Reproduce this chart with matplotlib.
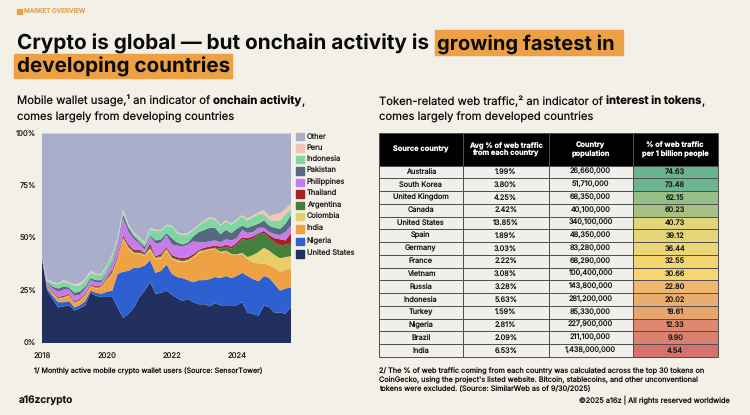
import matplotlib

matplotlib.use("Agg")
import matplotlib.pyplot as plt
import numpy as np
import pandas as pd
from matplotlib.colors import LinearSegmentedColormap, Normalize
from matplotlib.patches import Rectangle

plt.rcParams["font.family"] = ["Inter", "DejaVu Sans"]
plt.rcParams["text.hinting"] = "no_hinting"
plt.rcParams["text.hinting_factor"] = 1

BG = "#F3F0E8"
ORANGE = "#EDA144"
W, H = 750, 415

# wallet share, read as the top edge of each band (percent), every two months
dates = pd.date_range("2018-01-01", periods=47, freq="2MS")
us_top = [40, 25, 21, 17, 17.5, 18,
          15.5, 16.5, 18, 24, 22.5, 22,
          22, 22, 17, 12, 14, 17,
          22, 25, 29, 23.5, 24, 25,
          23, 21.5, 20, 21, 19.5, 18.5,
          18.5, 17.5, 19, 18, 18, 18,
          18, 19.5, 14.5, 14, 13, 18,
          17, 14.5, 14.5, 14, 17]
nigeria_top = [40.5, 26, 22.5, 19.5, 19.5, 20,
               17, 18, 20, 25, 24, 23.5,
               24.5, 25, 33, 34, 34.5, 36,
               36, 37, 39.5, 33.5, 34.5, 37.5,
               33, 31.5, 31, 30, 29, 30,
               30, 30.5, 31.5, 31, 32, 31,
               32, 33.5, 32, 30.5, 29.5, 32,
               31, 28, 25, 26, 26.5]
india_top = [40.7, 26.7, 23.5, 21, 21.5, 22.5,
             19, 20, 22.5, 27, 26, 26.5,
             30, 33, 40, 49.5, 45, 42.5,
             42.5, 41.5, 44, 40, 40.5, 44,
             40, 39, 38.5, 39, 41, 43,
             44, 44.5, 45, 43, 43.5, 42,
             42, 42.5, 40, 38.5, 38, 38,
             37, 36, 34, 35, 35.5]
colombia_top = [40.8, 26.9, 23.7, 21.2, 21.7, 22.7,
                19.2, 20.2, 22.7, 27.2, 26.2, 26.7,
                30.3, 33.4, 40.4, 50, 45.4, 43,
                43, 42, 45, 40.5, 41, 44.7,
                40.5, 39.5, 39, 39.5, 41.3, 43.5,
                44.3, 44.8, 45.2, 43.5, 44, 42.5,
                42.3, 43, 41, 42, 43.5, 45.5,
                44, 42, 40.5, 41, 41.5]
argentina_top = [40.9, 27, 24, 21.5, 22, 23,
                 19.5, 20.5, 23, 27.5, 26.5, 27,
                 31, 34, 41, 50.5, 46, 43.5,
                 43.5, 42.5, 46, 41, 41.5, 45.5,
                 41, 40, 39.5, 40, 41.5, 44,
                 44.5, 45, 45.5, 45, 46, 45,
                 47, 49.5, 49, 50, 52, 52.5,
                 50, 48, 46.5, 47, 47.5]
thailand_top = [41, 27.5, 24.5, 22, 22.5, 23.5,
                20, 21, 23.5, 28, 27, 27.5,
                31.5, 35, 42, 51.5, 47, 44.5,
                44.5, 43, 47.5, 41.5, 42.5, 46,
                42, 41, 40.5, 41, 42.5, 44.5,
                45.5, 46, 46.5, 46, 47, 46,
                48, 50.5, 50, 51, 52.5, 53.5,
                51.5, 50, 49.5, 49, 52.5]
philippines_top = [41.2, 28.5, 26, 24.5, 25.5, 25.5,
                   22.5, 23, 26, 30, 29, 29,
                   33.5, 38, 47, 59.5, 53, 49.5,
                   47.5, 44.5, 51, 47.5, 48, 51.5,
                   47, 46.5, 46, 47, 48.5, 48,
                   48, 48.5, 49, 48, 49.5, 49,
                   50, 54, 52.5, 53, 55, 55,
                   53, 52, 51.5, 53, 56]
pakistan_top = [41.4, 29, 27, 26, 27, 26.5,
                24, 24.5, 27, 31, 30, 30,
                34, 39, 48, 61.5, 55, 51,
                48.5, 46, 51.5, 49, 49.5, 52.5,
                50, 48, 47, 48, 51, 53,
                54, 55, 55, 52, 54, 52.5,
                54.5, 56, 55, 56, 57, 58.5,
                56, 55, 54.5, 57, 61]
indonesia_top = [41.6, 30, 28.5, 28, 29.5, 28.5,
                 27.5, 27.5, 30, 33.5, 32.5, 32.5,
                 37, 42, 50, 62.5, 56, 52,
                 50, 47.5, 54.5, 53.5, 53.5, 56,
                 55.5, 52.5, 51.5, 52, 54, 56,
                 58, 59.5, 59, 56, 58, 56.5,
                 58.5, 60.5, 58.5, 60, 61.5, 61.5,
                 58.5, 58.5, 58.5, 61.5, 64]
peru_top = [41.8, 30.5, 29, 28.5, 30, 29,
            28, 28.5, 30.5, 34.5, 33, 33,
            37.5, 42.5, 50.5, 63.5, 56.5, 52.5,
            50.5, 48, 55, 54, 54, 56.5,
            56, 53, 52, 52.5, 54.5, 56.5,
            58.5, 60, 59.5, 56.5, 58.5, 57,
            59, 61, 59.5, 61, 62.5, 63.5,
            60.5, 61.5, 62, 64, 66.5]

series_names = ["United States", "Nigeria", "India", "Colombia", "Argentina", "Thailand",
                "Philippines", "Pakistan", "Indonesia", "Peru", "Other"]
series_colors = ["#22305F", "#2F60D2", "#EEA243", "#E8CE68", "#447F3E", "#A32222",
                 "#C97BEE", "#56697F", "#7FD7A2", "#F2C5B7", "#A9AFCB"]

# table
countries = ["Australia", "South Korea", "United Kingdom", "Canada", "United States", "Spain",
             "Germany", "France", "Vietnam", "Russia", "Indonesia", "Turkey", "Nigeria",
             "Brazil", "India"]
traffic = ["1.99%", "3.80%", "4.25%", "2.42%", "13.85%", "1.89%", "3.03%", "2.22%", "3.08%",
           "3.28%", "5.63%", "1.59%", "2.81%", "2.09%", "6.53%"]
population = ["26,660,000", "51,710,000", "68,350,000", "40,100,000", "340,100,000", "48,350,000",
              "83,280,000", "68,290,000", "100,400,000", "143,800,000", "281,200,000", "85,330,000",
              "227,900,000", "211,100,000", "1,438,000,000"]
per_billion = [74.63, 73.48, 62.15, 60.23, 40.73, 39.12, 36.44, 32.55, 30.66, 22.80, 20.02,
               18.61, 12.33, 9.90, 4.54]
table_headers = ["Source country", "Avg % of web traffic\nfrom each country", "Country\npopulation",
                 "% of web traffic\nper 1 billion people"]


def px_axes(fig, x0, y0, x1, y1):
    # axes given in reference pixels, y measured from the top
    return fig.add_axes([x0 / W, 1 - y1 / H, (x1 - x0) / W, (y1 - y0) / H])


def draw_runs(ax, x, y, runs, size):
    # text pieces of different weight on one baseline, returns the x where they end
    renderer = ax.figure.canvas.get_renderer()
    for txt, weight in runs:
        ax.text(x, y, txt, fontsize=size, fontweight=weight, color="#0B0B0B", va="baseline",
                ha="left", zorder=3)
        # a bar at both ends keeps the trailing space in the measured width
        with_bars = ax.text(x, y, "|" + txt + "|", fontsize=size, fontweight=weight, alpha=0)
        bars = ax.text(x, y, "||", fontsize=size, fontweight=weight, alpha=0)
        x += with_bars.get_window_extent(renderer).width - bars.get_window_extent(renderer).width
        with_bars.remove()
        bars.remove()
    return x


fig = plt.figure(figsize=(W / 100, H / 100), dpi=100, facecolor=BG)

page = px_axes(fig, 0, 0, W, H)
page.set_xlim(0, W)
page.set_ylim(H, 0)
page.axis("off")

# header
page.add_patch(Rectangle((17, 9.5), 4.5, 5, color="#E5A24E", zorder=2))
page.text(24, 12, "MARKET OVERVIEW", fontsize=4.5, color="#DDA558", va="center", fontweight="medium")
page.add_patch(Rectangle((435, 30), 188, 25, color=ORANGE, zorder=1))
page.add_patch(Rectangle((14, 54), 218, 24, color=ORANGE, zorder=1))
draw_runs(page, 17, 50, [("Crypto is global — but onchain activity is", "bold")], 14.95)
draw_runs(page, 437, 50, [("growing fastest in", "bold")], 14.5)
draw_runs(page, 17, 73, [("developing countries", "bold")], 14.85)

# column headings
draw_runs(page, 17, 105, [("Mobile wallet usage,¹ an indicator of ", "normal"), ("onchain activity", "bold"),
                          (",", "normal")], 8.15)
draw_runs(page, 17, 121, [("comes largely from developing countries", "normal")], 8.1)
draw_runs(page, 379, 105, [("Token-related web traffic,² an indicator of ", "normal"),
                           ("interest in tokens", "bold"), (",", "normal")], 8.1)
draw_runs(page, 379, 121, [("comes largely from developed countries", "normal")], 8.1)

# stacked area
ax = px_axes(fig, 42, 133.5, 291, 343)
tops = np.array([us_top, nigeria_top, india_top, colombia_top, argentina_top, thailand_top,
                 philippines_top, pakistan_top, indonesia_top, peru_top, [100] * 47], dtype=float)
shares = np.diff(tops, axis=0, prepend=0)
ax.stackplot(dates, shares, colors=series_colors, labels=series_names, linewidth=0)
ax.set_xlim(dates[0], dates[-1])
ax.set_ylim(0, 100)
ax.set_yticks([0, 25, 50, 75, 100], ["0%", "25%", "50%", "75%", "100%"])
ax.set_xticks(pd.to_datetime(["2018-01-01", "2020-01-01", "2022-01-01", "2024-01-01"]),
              ["2018", "2020", "2022", "2024"])
ax.tick_params(length=0, labelsize=5.5, pad=4, labelcolor="#222222")
ax.tick_params(axis="x", pad=7)
ax.grid(True, color="#000000", alpha=0.02, lw=0.8)
ax.set_axisbelow(False)
for s in ax.spines.values():
    s.set_visible(False)

# legend, top entry first
legend_y = [136.7, 148, 159.7, 171, 182.5, 194, 205.3, 216.7, 229, 241.5, 254]
for name, color, y in zip(series_names[::-1], series_colors[::-1], legend_y):
    page.add_patch(Rectangle((296, y - 3.8), 7.6, 7.6, color=color, zorder=2))
    page.text(306.7, y, name, fontsize=5.4, color="#222222", va="center")

page.text(34.5, 371, "1/ Monthly active mobile crypto wallet users (Source: SensorTower)",
          fontsize=5.15, color="#111111", va="center")

# table
tab_ax = px_axes(fig, 378.7, 133, 717.7, 356.7)
tab_ax.axis("off")
cmap = LinearSegmentedColormap.from_list(
    "traffic",
    [(0.0, "#D6726D"), (0.11, "#DE8870"), (0.2, "#E8A66F"), (0.26, "#EFB870"), (0.37, "#F8D66F"),
     (0.5, "#E6D678"), (0.78, "#B0C380"), (0.82, "#97BF88"), (1.0, "#69B48F")])
norm = Normalize(min(per_billion), max(per_billion))
cells = [[c, t, p, f"{v:.2f}"] for c, t, p, v in zip(countries, traffic, population, per_billion)]
table = tab_ax.table(cellText=cells, colLabels=table_headers, cellLoc="center",
                     colWidths=[84.3, 85.5, 84.2, 85], bbox=[0, 0, 1, 1])
table.auto_set_font_size(False)
for (row, col), cell in table.get_celld().items():
    cell.set_edgecolor("#4E4E4E")
    cell.set_linewidth(0.7)
    cell.set_height(32.7 if row == 0 else 12.73)
    text = cell.get_text()
    text.set_fontsize(5.3)
    if row == 0:
        cell.set_facecolor("#000000")
        text.set_color("white")
        text.set_fontweight("bold")
    else:
        text.set_color("#161616")
        cell.set_facecolor(cmap(norm(per_billion[row - 1])) if col == 3 else "#F0EFEB")

# footnotes
notes = ["2/ The % of web traffic coming from each country was calculated across the top 30 tokens on",
         "CoinGecko, using the project's listed website. Bitcoin, stablecoins, and other unconventional",
         "tokens were excluded. (Source: SimilarWeb as of 9/30/2025)"]
for y, line in zip([371, 380, 389], notes):
    page.text(378.7, y, line, fontsize=5.25, color="#111111", va="center")
page.text(730, 400, "©2025 a16z | All rights reserved worldwide", fontsize=5.3, color="#111111",
          va="center", ha="right")
page.text(19, 400, "a16zcrypto", fontsize=7.3, fontweight="semibold", color="#111111", va="center")

fig.savefig("out.png", dpi=100, facecolor=BG)
